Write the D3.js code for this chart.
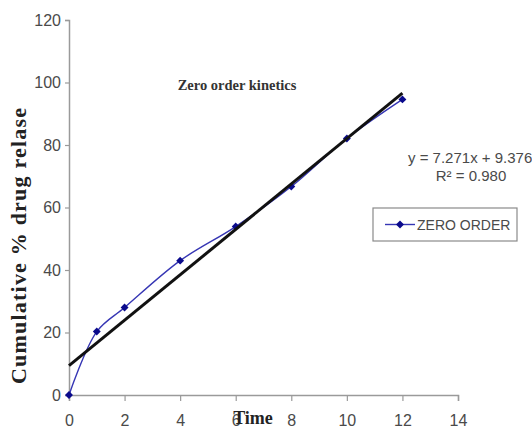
<!DOCTYPE html>
<html>
<head>
<meta charset="utf-8">
<script src="https://cdn.jsdelivr.net/npm/d3@7"></script>
<style>
  html, body { margin: 0; padding: 0; background: #fff; }
  svg { display: block; }
</style>
</head>
<body>
<svg id="chart" width="532" height="437"></svg>
<script>
// Cumulative drug release over time (zero order kinetics)
const timePoints = [0, 1, 2, 4, 6, 8, 10, 12];
const releaseValues = [0, 20.3, 28.0, 43.0, 53.9, 66.7, 82.1, 94.6];
const xTicks = [0, 2, 4, 6, 8, 10, 12, 14];
const yTicks = [0, 20, 40, 60, 80, 100, 120];
const trendSlope = 7.271;
const trendIntercept = 9.376;
const rSquared = 0.980;
const seriesName = "ZERO ORDER";

const svg = d3.select("#chart");
const plotLeft = 69, plotRight = 458, plotTop = 20, plotBottom = 395;

const x = d3.scaleLinear().domain([0, 14]).range([plotLeft, plotRight]);
const y = d3.scaleLinear().domain([0, 120]).range([plotBottom, plotTop]);

const axisColor = "#9a9a9a";
const labelColor = "#4a4a4a";

// Y axis
const yAxis = svg.append("g")
  .attr("transform", `translate(${plotLeft},0)`)
  .call(d3.axisLeft(y).tickValues(yTicks).tickSize(4).tickPadding(4).tickFormat(d3.format("d")));
// X axis
const xAxis = svg.append("g")
  .attr("transform", `translate(0,${plotBottom})`)
  .call(d3.axisBottom(x).tickValues(xTicks).tickSize(6).tickPadding(14).tickFormat(d3.format("d")));

[yAxis, xAxis].forEach(g => {
  g.select(".domain").attr("stroke", axisColor).attr("stroke-width", 1.5);
  g.selectAll(".tick line").attr("stroke", axisColor).attr("stroke-width", 1.2);
  g.selectAll(".tick text")
    .attr("fill", labelColor)
    .style("font-family", "'Liberation Sans', Arial, sans-serif")
    .style("font-size", "16px");
});

// Data series (smoothed line with diamond markers)
const line = d3.line()
  .x((d, i) => x(timePoints[i]))
  .y(d => y(d))
  .curve(d3.curveCatmullRom.alpha(0.5));

svg.append("path")
  .datum(releaseValues)
  .attr("d", line)
  .attr("fill", "none")
  .attr("stroke", "#3636b4")
  .attr("stroke-width", 1.4);

const diamond = d3.symbol().type(d3.symbolDiamond2).size(40);
svg.selectAll(".pt")
  .data(releaseValues)
  .join("path")
  .attr("class", "pt")
  .attr("transform", (d, i) => `translate(${x(timePoints[i])},${y(d)})`)
  .attr("d", diamond)
  .attr("fill", "#0a0a8c");

// Linear trend line from the fitted equation
const trendX = [0, 12];
svg.append("line")
  .attr("x1", x(trendX[0])).attr("y1", y(trendSlope * trendX[0] + trendIntercept))
  .attr("x2", x(trendX[1])).attr("y2", y(trendSlope * trendX[1] + trendIntercept))
  .attr("stroke", "#111")
  .attr("stroke-width", 3);

// Title
svg.append("text")
  .attr("x", 237).attr("y", 90)
  .attr("text-anchor", "middle")
  .style("font-family", "'Liberation Serif', 'Times New Roman', serif")
  .style("font-weight", "bold")
  .style("font-size", "14.5px")
  .attr("fill", "#333")
  .text("Zero order kinetics");

// Axis titles
svg.append("text")
  .attr("transform", "translate(26,246) rotate(-90)")
  .attr("text-anchor", "middle")
  .attr("textLength", 276)
  .attr("lengthAdjust", "spacing")
  .style("font-family", "'Liberation Serif', 'Times New Roman', serif")
  .style("font-weight", "bold")
  .style("font-size", "22px")
  .attr("fill", "#222")
  .text("Cumulative % drug relase");

svg.append("text")
  .attr("x", 253).attr("y", 424)
  .attr("text-anchor", "middle")
  .style("font-family", "'Liberation Serif', 'Times New Roman', serif")
  .style("font-weight", "bold")
  .style("font-size", "18px")
  .attr("fill", "#222")
  .text("Time");

// Trend line equation
const eqFont = "'Liberation Sans', Arial, sans-serif";
svg.append("text")
  .attr("x", 408).attr("y", 163)
  .style("font-family", eqFont)
  .style("font-size", "15px")
  .attr("fill", labelColor)
  .text(`y = ${trendSlope.toFixed(3)}x + ${trendIntercept.toFixed(3)}`);
svg.append("text")
  .attr("x", 471).attr("y", 181)
  .attr("text-anchor", "middle")
  .style("font-family", eqFont)
  .style("font-size", "15px")
  .attr("fill", labelColor)
  .text(`R\u00B2 = ${rSquared.toFixed(3)}`);

// Legend
const legend = svg.append("g");
legend.append("rect")
  .attr("x", 373).attr("y", 208).attr("width", 144).attr("height", 33)
  .attr("fill", "#fff").attr("stroke", "#8a8a8a").attr("stroke-width", 1.2);
legend.append("line")
  .attr("x1", 385).attr("x2", 415).attr("y1", 224.5).attr("y2", 224.5)
  .attr("stroke", "#3636b4").attr("stroke-width", 1.4);
legend.append("path")
  .attr("transform", "translate(400,224.5)")
  .attr("d", diamond)
  .attr("fill", "#0a0a8c");
legend.append("text")
  .attr("x", 417).attr("y", 229.5)
  .style("font-family", eqFont)
  .style("font-size", "14px")
  .attr("fill", labelColor)
  .text(seriesName);
</script>
</body>
</html>
